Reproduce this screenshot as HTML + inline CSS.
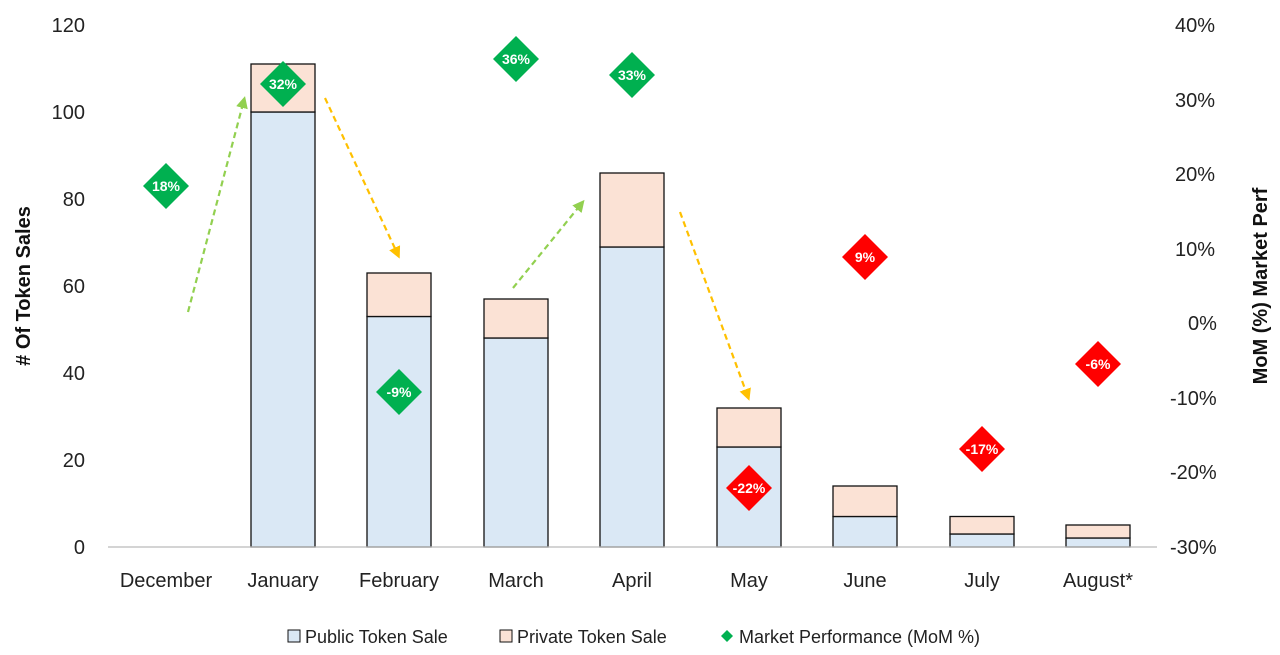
<!DOCTYPE html>
<html><head><meta charset="utf-8"><style>
body{margin:0;background:#fff;}
svg{display:block;font-family:"Liberation Sans",Arial,sans-serif;}
</style></head><body>
<svg width="1280" height="655" viewBox="0 0 1280 655" xmlns="http://www.w3.org/2000/svg">
<defs>
<marker id="ag" markerWidth="12" markerHeight="12" refX="8" refY="6" orient="auto" markerUnits="userSpaceOnUse"><path d="M0,0 L12,6 L0,12 z" fill="#92d050"/></marker>
<marker id="ao" markerWidth="12" markerHeight="12" refX="8" refY="6" orient="auto" markerUnits="userSpaceOnUse"><path d="M0,0 L12,6 L0,12 z" fill="#ffc000"/></marker>
</defs>
<g font-size="20" fill="#222" text-anchor="end">
<text x="85" y="554">0</text>
<text x="85" y="467">20</text>
<text x="85" y="380">40</text>
<text x="85" y="293">60</text>
<text x="85" y="206">80</text>
<text x="85" y="119">100</text>
<text x="85" y="32">120</text>
</g>
<g font-size="20" fill="#222" text-anchor="start">
<text x="1175" y="32">40%</text>
<text x="1175" y="107">30%</text>
<text x="1175" y="181">20%</text>
<text x="1175" y="256">10%</text>
<text x="1188" y="330">0%</text>
<text x="1170" y="405">-10%</text>
<text x="1170" y="479">-20%</text>
<text x="1170" y="554">-30%</text>
</g>
<text transform="translate(30,286) rotate(-90)" font-size="20" font-weight="bold" text-anchor="middle" fill="#111"># Of Token Sales</text>
<text transform="translate(1267,286) rotate(-90)" font-size="20" font-weight="bold" text-anchor="middle" fill="#111">MoM (%) Market Perf</text>
<g stroke="#111" stroke-width="1.3">
<rect x="251" y="112" width="64" height="435" fill="#dae8f5"/><rect x="251" y="64" width="64" height="48" fill="#fbe2d5"/>
<rect x="367" y="316.5" width="64" height="230.5" fill="#dae8f5"/><rect x="367" y="273" width="64" height="43.5" fill="#fbe2d5"/>
<rect x="484" y="338" width="64" height="209" fill="#dae8f5"/><rect x="484" y="299" width="64" height="39" fill="#fbe2d5"/>
<rect x="600" y="247" width="64" height="300" fill="#dae8f5"/><rect x="600" y="173" width="64" height="74" fill="#fbe2d5"/>
<rect x="717" y="447" width="64" height="100" fill="#dae8f5"/><rect x="717" y="408" width="64" height="39" fill="#fbe2d5"/>
<rect x="833" y="516.5" width="64" height="30.5" fill="#dae8f5"/><rect x="833" y="486" width="64" height="30.5" fill="#fbe2d5"/>
<rect x="950" y="534" width="64" height="13" fill="#dae8f5"/><rect x="950" y="516.5" width="64" height="17.5" fill="#fbe2d5"/>
<rect x="1066" y="538" width="64" height="9" fill="#dae8f5"/><rect x="1066" y="525" width="64" height="13" fill="#fbe2d5"/>
</g>
<line x1="108" y1="547" x2="1157" y2="547" stroke="#bbb" stroke-width="1.3"/>
<g stroke-width="2.2" stroke-dasharray="6,4" fill="none">
<line x1="188" y1="312" x2="244" y2="100" stroke="#92d050" marker-end="url(#ag)"/>
<line x1="325" y1="98" x2="398" y2="255" stroke="#ffc000" marker-end="url(#ao)"/>
<line x1="513" y1="288" x2="582" y2="203" stroke="#92d050" marker-end="url(#ag)"/>
<line x1="680" y1="212" x2="748" y2="397" stroke="#ffc000" marker-end="url(#ao)"/>
</g>
<g font-size="14" font-weight="bold" fill="#fff" text-anchor="middle">
<g transform="translate(166,186)"><path d="M0,-23 L23,0 L0,23 L-23,0z" fill="#00b050"/><text y="5">18%</text></g>
<g transform="translate(283,84)"><path d="M0,-23 L23,0 L0,23 L-23,0z" fill="#00b050"/><text y="5">32%</text></g>
<g transform="translate(399,392)"><path d="M0,-23 L23,0 L0,23 L-23,0z" fill="#00b050"/><text y="5">-9%</text></g>
<g transform="translate(516,59)"><path d="M0,-23 L23,0 L0,23 L-23,0z" fill="#00b050"/><text y="5">36%</text></g>
<g transform="translate(632,75)"><path d="M0,-23 L23,0 L0,23 L-23,0z" fill="#00b050"/><text y="5">33%</text></g>
<g transform="translate(749,488)"><path d="M0,-23 L23,0 L0,23 L-23,0z" fill="#ff0000"/><text y="5">-22%</text></g>
<g transform="translate(865,257)"><path d="M0,-23 L23,0 L0,23 L-23,0z" fill="#ff0000"/><text y="5">9%</text></g>
<g transform="translate(982,449)"><path d="M0,-23 L23,0 L0,23 L-23,0z" fill="#ff0000"/><text y="5">-17%</text></g>
<g transform="translate(1098,364)"><path d="M0,-23 L23,0 L0,23 L-23,0z" fill="#ff0000"/><text y="5">-6%</text></g>
</g>
<g font-size="20" fill="#222" text-anchor="middle">
<text x="166" y="587">December</text>
<text x="283" y="587">January</text>
<text x="399" y="587">February</text>
<text x="516" y="587">March</text>
<text x="632" y="587">April</text>
<text x="749" y="587">May</text>
<text x="865" y="587">June</text>
<text x="982" y="587">July</text>
<text x="1098" y="587">August*</text>
</g>
<g font-size="18" fill="#222">
<rect x="288" y="630" width="12" height="12" fill="#dae8f5" stroke="#111"/><text x="305" y="643">Public Token Sale</text>
<rect x="500" y="630" width="12" height="12" fill="#fbe2d5" stroke="#111"/><text x="517" y="643">Private Token Sale</text>
<path d="M727,630 L733,636 L727,642 L721,636z" fill="#00b050"/><text x="739" y="643">Market Performance (MoM %)</text>
</g>
</svg>
</body></html>
